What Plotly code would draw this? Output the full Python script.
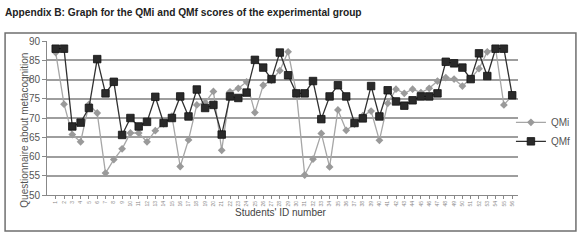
import plotly.graph_objects as go

student_ids = list(range(1, 57))
qmi = [87.0, 73.6, 65.7, 63.8, 73.5, 71.3, 55.7, 59.2, 62.0, 66.1,
       66.1, 63.8, 66.7, 68.5, 70.5, 57.4, 64.3, 73.4, 74.0, 76.9,
       61.6, 76.8, 77.7, 79.4, 71.4, 78.5, 79.8, 82.3, 87.2, 76.6,
       55.2, 59.3, 66.0, 57.3, 72.1, 66.8, 68.4, 70.6, 71.8, 64.2,
       73.8, 77.5, 76.4, 77.5, 76.6, 77.7, 79.6, 80.5, 80.1, 78.3,
       80.2, 82.8, 87.2, 88.0, 73.4, 75.8]
qmf = [88.0, 88.0, 67.8, 68.8, 72.6, 85.3, 76.4, 79.4, 65.6, 70.0,
       67.8, 69.0, 75.5, 68.7, 70.0, 75.6, 70.4, 77.4, 72.6, 73.4,
       65.7, 75.6, 75.2, 76.6, 85.1, 83.1, 80.1, 87.0, 81.1, 76.4,
       76.4, 79.6, 69.7, 75.6, 78.5, 75.6, 68.7, 69.9, 78.3, 70.4,
       77.2, 74.3, 73.2, 74.6, 75.6, 75.6, 76.4, 84.6, 84.2, 83.1,
       80.1, 86.8, 80.9, 88.0, 88.0, 75.9]
y_ticks = [50, 55, 60, 65, 70, 75, 80, 85, 90]
dark_grid = [55, 85]

fig = go.Figure()
fig.add_trace(go.Scatter(
    x=student_ids, y=qmi, name="QMi", mode="lines+markers",
    line=dict(color="#a6a6a6", width=1.3),
    marker=dict(symbol="diamond", size=6, color="#9a9a9a"),
))
fig.add_trace(go.Scatter(
    x=student_ids, y=qmf, name="QMf", mode="lines+markers",
    line=dict(color="#303030", width=1.3),
    marker=dict(symbol="square", size=7.5, color="#2a2a2a",
                line=dict(color="#111111", width=0.8)),
))

for v in dark_grid:
    fig.add_shape(type="line", xref="paper", yref="y", x0=0, x1=1, y0=v, y1=v,
                  line=dict(color="#3a3a3a", width=1.5), layer="below")

# outer frame
fig.add_shape(type="rect", xref="paper", yref="paper",
              x0=-0.089, x1=1.123, y0=-0.234, y1=1.052,
              line=dict(color="#6f6f6f", width=1.5))

fig.add_annotation(text="Questionnaire about metacognition", xref="paper", yref="paper",
                   x=-0.064, y=0.42, textangle=-90, showarrow=False,
                   font=dict(family="Liberation Sans, Arial", size=10, color="#555555"))
fig.add_annotation(text="Students' ID number", xref="paper", yref="paper",
                   x=0.497, y=-0.162, showarrow=False,
                   font=dict(family="Liberation Sans, Arial", size=10, color="#444444"))

fig.update_layout(
    width=580, height=242,
    margin=dict(l=47, r=62, t=41, b=47, autoexpand=False),
    paper_bgcolor="white", plot_bgcolor="white",
    title=dict(text="<b>Appendix B: Graph for the QMi and QMf scores of the experimental group</b>",
               xref="container", yref="container", x=5/580, xanchor="left",
               y=1 - 12/242, yanchor="middle",
               font=dict(family="Liberation Sans, Arial", size=10.2, color="#222222")),
    font=dict(family="Liberation Sans, Arial", color="#555555"),
    showlegend=True,
    legend=dict(x=0.985, y=0.41, xanchor="left", yanchor="middle",
                font=dict(size=10, color="#555555"), bgcolor="rgba(0,0,0,0)",
                tracegroupgap=0, itemwidth=30),
    xaxis=dict(range=[-0.05, 56.7], tickvals=student_ids,
               ticktext=[str(i) for i in student_ids], tickangle=-90,
               tickfont=dict(size=5, color="#888888"),
               showgrid=False, zeroline=False, showline=True, linecolor="#888888",
               linewidth=1, ticks="outside", ticklen=3, tickcolor="#888888",
               automargin=False),
    yaxis=dict(range=[50, 90], tickvals=y_ticks, showgrid=True, gridcolor="#9e9e9e",
               gridwidth=1.5, zeroline=False, showline=True, linecolor="#888888",
               linewidth=1, ticks="outside", ticklen=4, tickcolor="#888888",
               tickfont=dict(size=10, color="#555555"), automargin=False),
)

fig.write_html("out.html", config={"displayModeBar": False},
               post_script="document.body.style.margin='0px';document.body.style.overflow='hidden';")
